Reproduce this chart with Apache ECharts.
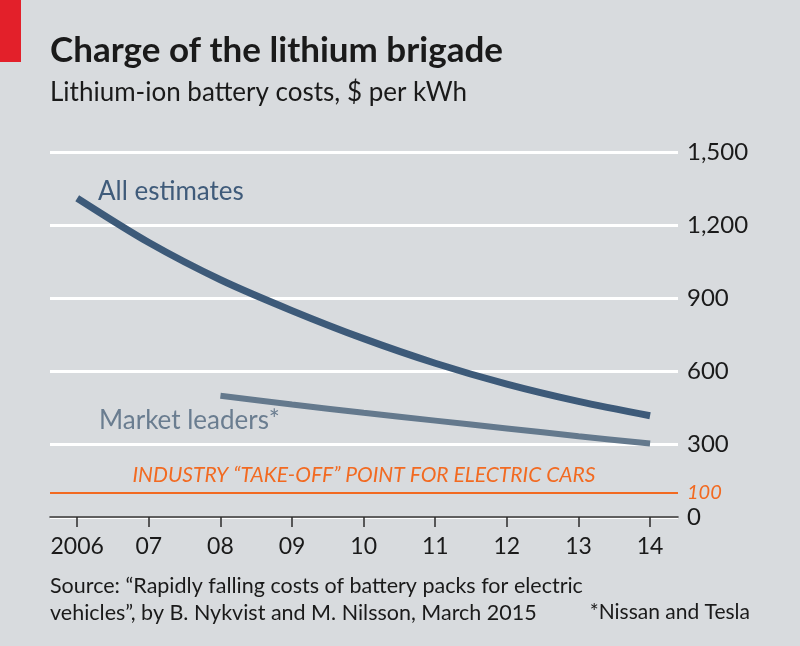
<!DOCTYPE html>
<html>
<head>
<meta charset="utf-8">
<script src="https://cdn.jsdelivr.net/npm/echarts@6/dist/echarts.min.js"></script>
<style>
html,body{margin:0;padding:0;background:#d8dbde;}
#c{width:800px;height:646px;}
</style>
</head>
<body>
<div id="c"></div>
<script>
const years = [2006, 2007, 2008, 2009, 2010, 2011, 2012, 2013, 2014];
const yearLabels = ['2006', '07', '08', '09', '10', '11', '12', '13', '14'];
const allEstimates = [1310, 1128, 975, 848, 733, 632, 546, 475, 416];
const leaderYears = [2008, 2009, 2010, 2011, 2012, 2013, 2014];
const marketLeaders = [498, 462, 428, 396, 364, 332, 302];
const yTicks = [0, 300, 600, 900, 1200, 1500];
const takeOff = 100;

const FONT = 'Lato, "Noto Sans", sans-serif';
const chart = echarts.init(document.getElementById('c'), null, {renderer: 'canvas'});
const labelMap = {};
years.forEach((y, i) => labelMap[y] = yearLabels[i]);

chart.setOption({
  backgroundColor: '#d8dbde',
  animation: false,
  grid: {left: 50, right: 122, top: 152, bottom: 129, containLabel: false},
  xAxis: {
    type: 'value', min: 2005.62, max: 2014.39,
    axisLine: {show: true, lineStyle: {color: '#2b2b2b', width: 1.5}},
    axisTick: {show: true, customValues: years, length: 10, inside: false, lineStyle: {color: '#2b2b2b', width: 1.5}},
    axisLabel: {customValues: years, formatter: v => labelMap[Math.round(v)] || '', color: '#1a1a1a', fontSize: 23, fontFamily: FONT, margin: 18},
    splitLine: {show: false}
  },
  yAxis: {
    type: 'value', position: 'right', min: yTicks[0], max: yTicks[yTicks.length - 1], interval: 300,
    axisLine: {show: false}, axisTick: {show: false},
    axisLabel: {formatter: v => v.toLocaleString('en-US'), color: '#1a1a1a', fontSize: 24, fontFamily: FONT, margin: 9, align: 'left'},
    splitLine: {show: true, lineStyle: {color: '#ffffff', width: 3}}
  },
  series: [
    {
      type: 'line', name: 'All estimates', smooth: 0.3, symbol: 'none',
      data: years.map((y, i) => [y, allEstimates[i]]),
      lineStyle: {color: '#3d5a79', width: 7, cap: 'butt'},
      z: 5,
      markLine: {
        silent: true, symbol: 'none',
        lineStyle: {color: '#f26a21', width: 2, type: 'solid'},
        data: [
          {yAxis: takeOff, label: {show: true, position: 'insideMiddleTop', formatter: 'INDUSTRY \u201cTAKE-OFF\u201d POINT FOR ELECTRIC CARS', color: '#f26a21', fontSize: 21, fontStyle: 'italic', fontFamily: FONT, distance: 7}},
          {yAxis: takeOff, label: {show: true, position: 'end', formatter: String(takeOff), color: '#f26a21', fontSize: 20, fontStyle: 'italic', fontFamily: FONT, distance: 9}}
        ]
      }
    },
    {
      type: 'line', name: 'Market leaders', smooth: 0.3, symbol: 'none',
      data: leaderYears.map((y, i) => [y, marketLeaders[i]]),
      lineStyle: {color: '#64798d', width: 6, cap: 'butt'},
      z: 4
    }
  ],
  graphic: [
    {type: 'rect', shape: {x: 0, y: 0, width: 21, height: 62}, style: {fill: '#e3202a'}},
    {type: 'text', left: 50, top: 33, style: {text: 'Charge of the lithium brigade', font: 'bold 35px ' + FONT, fill: '#1a1a1a'}},
    {type: 'text', left: 50, top: 80, style: {text: 'Lithium-ion battery costs, $ per kWh', font: '26px ' + FONT, fill: '#1a1a1a'}},
    {type: 'text', left: 98, top: 179, style: {text: 'All estimates', font: '26px ' + FONT, fill: '#3f5b7a'}},
    {type: 'text', left: 99, top: 408, style: {text: 'Market leaders*', font: '26px ' + FONT, fill: '#6a7d90'}},
    {type: 'text', left: 50, top: 575, style: {text: 'Source: \u201cRapidly falling costs of battery packs for electric', font: '21.5px ' + FONT, fill: '#1a1a1a'}},
    {type: 'text', left: 50, top: 602, style: {text: 'vehicles\u201d, by B. Nykvist and M. Nilsson, March 2015', font: '21.5px ' + FONT, fill: '#1a1a1a'}},
    {type: 'text', right: 50, top: 602, style: {text: '*Nissan and Tesla', font: '21px ' + FONT, fill: '#1a1a1a'}}
  ]
});
</script>
</body>
</html>
